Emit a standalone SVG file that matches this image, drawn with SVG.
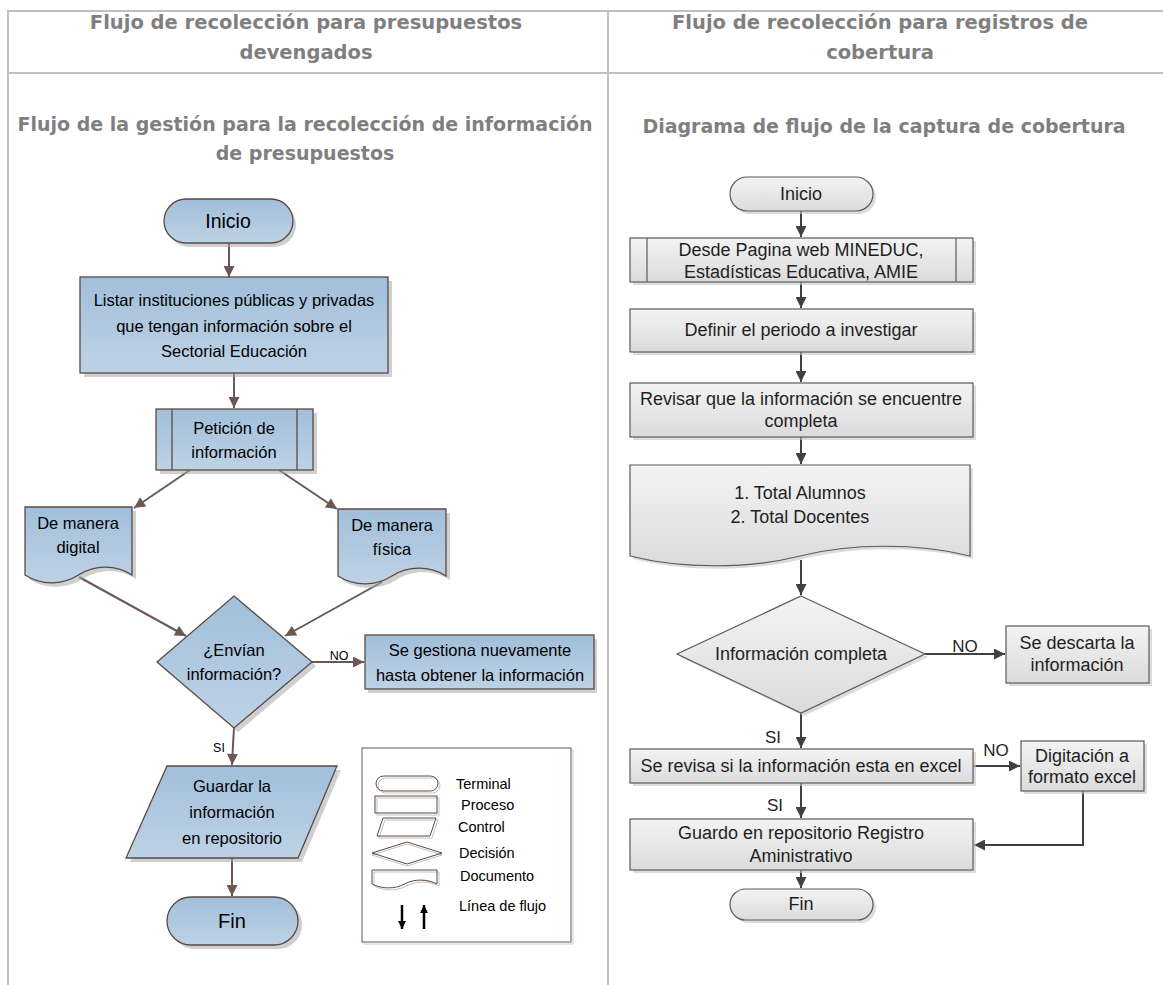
<svg xmlns="http://www.w3.org/2000/svg" width="1163" height="985" viewBox="0 0 1163 985">
<defs>
<linearGradient id="gBlue" x1="0" y1="0" x2="0" y2="1"><stop offset="0" stop-color="#a1bfda"/><stop offset="1" stop-color="#bed2e5"/></linearGradient>
<linearGradient id="gGrey" x1="0" y1="0" x2="0" y2="1"><stop offset="0" stop-color="#f3f3f3"/><stop offset="1" stop-color="#dbdbdb"/></linearGradient>
<marker id="aBrown" viewBox="0 0 10 10" refX="10" refY="5" markerWidth="12" markerHeight="11" markerUnits="userSpaceOnUse" orient="auto"><path d="M0,0 L10,5 L0,10 Z" fill="#6b5853"/></marker>
<marker id="aGrey" viewBox="0 0 10 10" refX="10" refY="5" markerWidth="11" markerHeight="11" markerUnits="userSpaceOnUse" orient="auto"><path d="M0,0 L10,5 L0,10 Z" fill="#404040"/></marker>
<marker id="aBlack" viewBox="0 0 10 10" refX="10" refY="5" markerWidth="9" markerHeight="8" markerUnits="userSpaceOnUse" orient="auto"><path d="M0,0 L10,5 L0,10 Z" fill="#000"/></marker>
<style>
.grid{stroke:#bfbfbf;stroke-width:2;fill:none}
.hdr{font-family:"DejaVu Sans",sans-serif;font-weight:bold;fill:#7f7f7f;text-anchor:middle}
.bl{fill:url(#gBlue);stroke:#5a4a45;stroke-width:1.3}
.gr{fill:url(#gGrey);stroke:#5a5a5a;stroke-width:1.2}
.shb{fill:#a8a8a8;opacity:0.55}
.shg{fill:#c4c4c4;opacity:0.6}
.tl{font-family:"Liberation Sans",Arial,sans-serif;font-size:16.5px;fill:#000;text-anchor:middle}
.tr{font-family:"Liberation Sans",Arial,sans-serif;font-size:18px;fill:#1f1f1f;text-anchor:middle}
.lab{font-family:"Liberation Sans",Arial,sans-serif;font-size:17px;fill:#1f1f1f;text-anchor:middle}
.labs{font-family:"Liberation Sans",Arial,sans-serif;font-size:12.5px;fill:#000;text-anchor:middle}
.cb{fill:none;stroke:#6b5853;stroke-width:2;marker-end:url(#aBrown)}
.cg{fill:none;stroke:#404040;stroke-width:2;marker-end:url(#aGrey)}
.lg{fill:none;stroke:#5a4a45;stroke-width:1}
.lgs{fill:none;stroke:#c8c0bc;stroke-width:1}
.lt{font-family:"Liberation Sans",Arial,sans-serif;font-size:14.5px;fill:#000}
</style>
</defs>
<rect width="1163" height="985" fill="#fff"/>

<g id="table">
<line class="grid" x1="8" y1="11" x2="1163" y2="11"/>
<line class="grid" x1="8" y1="73" x2="1163" y2="73"/>
<line class="grid" x1="8" y1="10" x2="8" y2="985"/>
<line class="grid" x1="608" y1="10" x2="608" y2="985"/>
<text class="hdr" x="306" y="29" style="font-size:19.5px">Flujo de recolección para presupuestos</text>
<text class="hdr" x="306" y="59" style="font-size:19.5px">devengados</text>
<text class="hdr" x="880" y="29" style="font-size:19.5px">Flujo de recolección para registros de</text>
<text class="hdr" x="880" y="59" style="font-size:19.5px">cobertura</text>
<text class="hdr" x="305" y="131" style="font-size:19px">Flujo de la gestión para la recolección de información</text>
<text class="hdr" x="305" y="160" style="font-size:19px">de presupuestos</text>
<text class="hdr" x="884" y="133" style="font-size:19px">Diagrama de flujo de la captura de cobertura</text>
</g>

<g id="connectors">
<line class="cb" x1="229" y1="243" x2="229" y2="277"/>
<line class="cb" x1="234" y1="373" x2="234" y2="408"/>
<line class="cb" x1="190" y1="470" x2="134" y2="508"/>
<line class="cb" x1="279" y1="470" x2="337" y2="509"/>
<line class="cb" x1="79" y1="577" x2="186" y2="636"/>
<line class="cb" x1="382" y1="582" x2="285" y2="636"/>
<line class="cb" x1="312" y1="662" x2="364" y2="662"/>
<path class="cb" d="M234,728 L233,745 L232,765"/>
<line class="cb" x1="232" y1="858" x2="232" y2="896"/>
<text class="labs" x="339" y="660">NO</text>
<text class="labs" x="219" y="752">SI</text>

<line class="cg" x1="801" y1="211" x2="801" y2="237"/>
<line class="cg" x1="801" y1="282" x2="801" y2="308"/>
<line class="cg" x1="801" y1="352" x2="801" y2="382"/>
<line class="cg" x1="801" y1="437" x2="801" y2="464"/>
<line class="cg" x1="801" y1="560" x2="801" y2="595"/>
<line class="cg" x1="925" y1="654" x2="1005" y2="654"/>
<line class="cg" x1="801" y1="713" x2="801" y2="748"/>
<line class="cg" x1="973" y1="766" x2="1020" y2="766"/>
<line class="cg" x1="801" y1="783" x2="801" y2="818"/>
<path class="cg" d="M1083,791 V845 H974"/>
<line class="cg" x1="801" y1="870" x2="801" y2="888"/>
<text class="lab" x="965" y="652">NO</text>
<text class="lab" x="773" y="743">SI</text>
<text class="lab" x="996" y="756">NO</text>
<text class="lab" x="775" y="811">SI</text>
</g>

<!-- Left flowchart -->
<g id="l-inicio">
<rect class="shb" x="167" y="203" width="129" height="44" rx="22"/>
<rect class="bl" x="164" y="199" width="129" height="44" rx="22"/>
<text class="tl" x="228" y="228" style="font-size:19.5px">Inicio</text>
</g>
<g id="l-listar">
<rect class="shb" x="84" y="281" width="308" height="96"/>
<rect class="bl" x="80" y="277" width="308" height="96"/>
<text class="tl" x="234" y="306">Listar instituciones públicas y privadas</text>
<text class="tl" x="234" y="332">que tengan información sobre el</text>
<text class="tl" x="234" y="357">Sectorial Educación</text>
</g>
<g id="l-peticion">
<rect class="shb" x="160" y="413" width="157" height="61"/>
<rect class="bl" x="156" y="409" width="157" height="61"/>
<line class="bl" x1="172" y1="409" x2="172" y2="470"/>
<line class="bl" x1="297" y1="409" x2="297" y2="470"/>
<text class="tl" x="234" y="434">Petición de</text>
<text class="tl" x="234" y="458">información</text>
</g>
<g id="l-digital">
<path class="shb" transform="translate(4,4)" d="M25,507 H132 V575 C116,564.6 95,564.6 78.5,575 C62,585.4 41,585.4 25,575 Z"/>
<path class="bl" d="M25,507 H132 V575 C116,564.6 95,564.6 78.5,575 C62,585.4 41,585.4 25,575 Z"/>
<text class="tl" x="78" y="529">De manera</text>
<text class="tl" x="78" y="553">digital</text>
</g>
<g id="l-fisica">
<path class="shb" transform="translate(4,4)" d="M338,509 H446 V576 C430,565.6 408,565.6 392,576 C376,586.4 354,586.4 338,576 Z"/>
<path class="bl" d="M338,509 H446 V576 C430,565.6 408,565.6 392,576 C376,586.4 354,586.4 338,576 Z"/>
<text class="tl" x="392" y="531">De manera</text>
<text class="tl" x="392" y="555">física</text>
</g>
<g id="l-decision">
<polygon class="shb" points="238,600 316,666 238,732 161,666"/>
<polygon class="bl" points="234,596 312,662 234,728 157,662"/>
<text class="tl" x="234" y="656">¿Envían</text>
<text class="tl" x="234" y="680">información?</text>
</g>
<g id="l-gestiona">
<rect class="shb" x="368" y="639" width="229" height="54"/>
<rect class="bl" x="365" y="635" width="229" height="54"/>
<text class="tl" x="480" y="656">Se gestiona nuevamente</text>
<text class="tl" x="480" y="681">hasta obtener la información</text>
</g>
<g id="l-guardar">
<polygon class="shb" points="171,770 341,770 302,862 130,862"/>
<polygon class="bl" points="167,766 337,766 298,858 126,858"/>
<text class="tl" x="232" y="792">Guardar la</text>
<text class="tl" x="232" y="818">información</text>
<text class="tl" x="232" y="844">en repositorio</text>
</g>
<g id="l-fin">
<rect class="shb" x="171" y="901" width="131" height="48" rx="24"/>
<rect class="bl" x="167" y="897" width="131" height="48" rx="24"/>
<text class="tl" x="232" y="928" style="font-size:20px">Fin</text>
</g>

<g id="legend">
<rect x="364" y="750" width="209" height="194" fill="none" stroke="#d0cac7" stroke-width="1"/>
<rect x="362" y="748" width="209" height="194" fill="#fff" stroke="#6b5853" stroke-width="1"/>
<rect class="lgs" x="378" y="778" width="62" height="15" rx="7.5"/>
<rect class="lg" x="376" y="776" width="62" height="15" rx="7.5"/>
<rect class="lgs" x="377" y="798" width="62" height="17"/>
<rect class="lg" x="375" y="796" width="62" height="17"/>
<polygon class="lgs" points="385,820 438,820 432,838 379,838"/>
<polygon class="lg" points="383,818 436,818 430,836 377,836"/>
<polygon class="lgs" points="372,855 407,844 442,855 407,866"/>
<polygon class="lg" points="372,853 407,842 442,853 407,864"/>
<path class="lgs" transform="translate(2,2)" d="M372,870 H437 V884 C427,878.8 414,878.8 404.5,884 C395,889.2 382,889.2 372,884 Z"/>
<path class="lg" d="M372,870 H437 V884 C427,878.8 414,878.8 404.5,884 C395,889.2 382,889.2 372,884 Z"/>
<line x1="402" y1="905" x2="402" y2="929" stroke="#000" stroke-width="2.5" marker-end="url(#aBlack)"/>
<line x1="424" y1="929" x2="424" y2="905" stroke="#000" stroke-width="2.5" marker-end="url(#aBlack)"/>
<text class="lt" x="456" y="789">Terminal</text>
<text class="lt" x="461" y="810">Proceso</text>
<text class="lt" x="458" y="832">Control</text>
<text class="lt" x="459" y="858">Decisión</text>
<text class="lt" x="460" y="881">Documento</text>
<text class="lt" x="459" y="911">Línea de flujo</text>
</g>

<!-- Right flowchart -->
<g id="r-inicio">
<rect class="shg" x="733" y="180" width="143" height="34" rx="17"/>
<rect class="gr" x="730" y="177" width="143" height="34" rx="17"/>
<text class="tr" x="801" y="200">Inicio</text>
</g>
<g id="r-desde">
<rect class="shg" x="633" y="241" width="343" height="44"/>
<rect class="gr" x="630" y="238" width="343" height="44"/>
<line class="gr" x1="647" y1="238" x2="647" y2="282"/>
<line class="gr" x1="956" y1="238" x2="956" y2="282"/>
<text class="tr" x="801" y="256">Desde Pagina web MINEDUC,</text>
<text class="tr" x="801" y="278">Estadísticas Educativa, AMIE</text>
</g>
<g id="r-definir">
<rect class="shg" x="633" y="312" width="343" height="43"/>
<rect class="gr" x="630" y="309" width="343" height="43"/>
<text class="tr" x="801" y="336">Definir el periodo a investigar</text>
</g>
<g id="r-revisar">
<rect class="shg" x="633" y="386" width="343" height="54"/>
<rect class="gr" x="630" y="383" width="343" height="54"/>
<text class="tr" x="801" y="405">Revisar que la información se encuentre</text>
<text class="tr" x="801" y="427">completa</text>
</g>
<g id="r-documento">
<path class="shg" transform="translate(3,3)" d="M630,465 H970 V556 C919,543 851,543 800,556 C749,569 681,569 630,556 Z"/>
<path class="gr" d="M630,465 H970 V556 C919,543 851,543 800,556 C749,569 681,569 630,556 Z"/>
<text class="tr" x="800" y="499">1. Total Alumnos</text>
<text class="tr" x="800" y="523">2. Total Docentes</text>
</g>
<g id="r-decision">
<polygon class="shg" points="804,599 928,657 804,716 680,657"/>
<polygon class="gr" points="801,596 925,654 801,713 677,654"/>
<text class="tr" x="801" y="660">Información completa</text>
</g>
<g id="r-descarta">
<rect class="shg" x="1009" y="629" width="143" height="57"/>
<rect class="gr" x="1006" y="626" width="143" height="57"/>
<text class="tr" x="1077" y="649">Se descarta la</text>
<text class="tr" x="1077" y="671">información</text>
</g>
<g id="r-excel">
<rect class="shg" x="633" y="752" width="343" height="34"/>
<rect class="gr" x="630" y="749" width="343" height="34"/>
<text class="tr" x="801" y="772">Se revisa si la información esta en excel</text>
</g>
<g id="r-digitacion">
<rect class="shg" x="1024" y="744" width="123" height="50"/>
<rect class="gr" x="1021" y="741" width="123" height="50"/>
<text class="tr" x="1082" y="762">Digitación a</text>
<text class="tr" x="1082" y="783">formato excel</text>
</g>
<g id="r-guardo">
<rect class="shg" x="633" y="822" width="343" height="51"/>
<rect class="gr" x="630" y="819" width="343" height="51"/>
<text class="tr" x="801" y="839">Guardo en repositorio Registro</text>
<text class="tr" x="801" y="862">Aministrativo</text>
</g>
<g id="r-fin">
<rect class="shg" x="733" y="892" width="143" height="31" rx="15.5"/>
<rect class="gr" x="730" y="889" width="143" height="31" rx="15.5"/>
<text class="tr" x="801" y="910">Fin</text>
</g>
</svg>
